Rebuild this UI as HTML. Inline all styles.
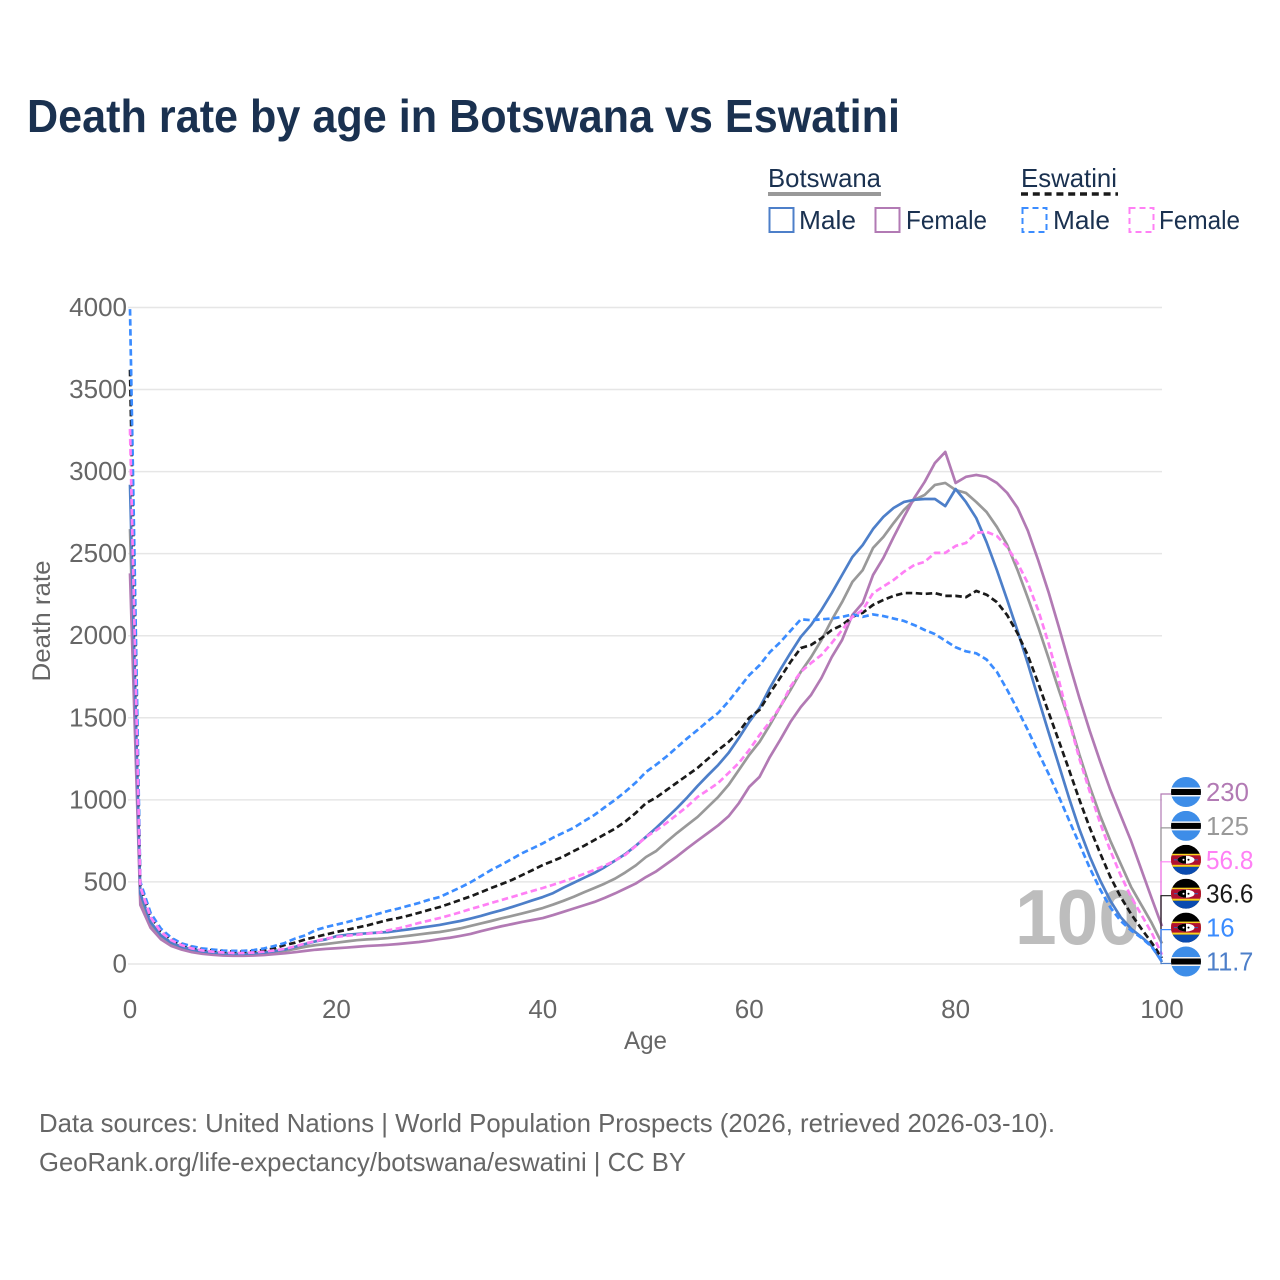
<!DOCTYPE html>
<html lang="en">
<head>
<meta charset="utf-8">
<title>Death rate by age in Botswana vs Eswatini</title>
<style>
html,body{margin:0;padding:0;background:#fff;width:1280px;height:1280px;overflow:hidden}
svg{display:block}
text{font-family:"Liberation Sans",sans-serif}
</style>
</head>
<body>
<svg id="chart" xmlns="http://www.w3.org/2000/svg" width="1280" height="1280" viewBox="0 0 1280 1280">
  <defs>
    <clipPath id="flag-clip"><circle cx="0" cy="0" r="15"></circle></clipPath>
  </defs>
  <rect x="0" y="0" width="1280" height="1280" fill="#fff"></rect>
  <text x="27" y="132" font-size="46" font-weight="700" fill="#1a3150" textLength="873" lengthAdjust="spacingAndGlyphs">Death rate by age in Botswana vs Eswatini</text>

  <g fill="#1a3150" font-size="26">
    <text x="768" y="187" textLength="113" lengthAdjust="spacingAndGlyphs">Botswana</text>
    <rect x="768" y="192" width="113" height="4" fill="#999"></rect>
    <text x="1021" y="187" textLength="96" lengthAdjust="spacingAndGlyphs">Eswatini</text>
    <line x1="1021" y1="194" x2="1118" y2="194" stroke="#1a1a1a" stroke-width="3.5" stroke-dasharray="7 4.8"></line>
    <rect x="769.5" y="208" width="24" height="24" fill="none" stroke="#4d7fc9" stroke-width="2"></rect>
    <text x="799" y="229" textLength="57" lengthAdjust="spacingAndGlyphs">Male</text>
    <rect x="875.5" y="208" width="24" height="24" fill="none" stroke="#b27ab4" stroke-width="2"></rect>
    <text x="906" y="229" textLength="81" lengthAdjust="spacingAndGlyphs">Female</text>
    <rect x="1022.5" y="208" width="24" height="24" fill="none" stroke="#3b8cff" stroke-width="2" stroke-dasharray="6 4"></rect>
    <text x="1053" y="229" textLength="57" lengthAdjust="spacingAndGlyphs">Male</text>
    <rect x="1129.5" y="208" width="24" height="24" fill="none" stroke="#ff80f5" stroke-width="2" stroke-dasharray="6 4"></rect>
    <text x="1159" y="229" textLength="81" lengthAdjust="spacingAndGlyphs">Female</text>
  </g>

  <g id="grid"></g>
  <g id="y-ticks"></g>
  <g id="x-ticks"></g>
  <text transform="translate(50,621) rotate(-90)" text-anchor="middle" font-size="25" fill="#666" textLength="121" lengthAdjust="spacingAndGlyphs">Death rate</text>
  <text x="624" y="1049" font-size="25" fill="#666" textLength="43" lengthAdjust="spacingAndGlyphs">Age</text>
  <text x="1015" y="944" font-size="78" font-weight="700" fill="#bdbdbd" textLength="125" lengthAdjust="spacingAndGlyphs">100</text>
  <g id="series"></g>
  <g id="end-labels"></g>

  <text x="39" y="1132" font-size="26" fill="#666" textLength="1016" lengthAdjust="spacingAndGlyphs">Data sources: United Nations | World Population Prospects (2026, retrieved 2026-03-10).</text>
  <text x="39" y="1171" font-size="26" fill="#666" textLength="647" lengthAdjust="spacingAndGlyphs">GeoRank.org/life-expectancy/botswana/eswatini | CC BY</text>
</svg>
<script>
var yTickValues = [0, 500, 1000, 1500, 2000, 2500, 3000, 3500, 4000];
var xTickValues = [0, 20, 40, 60, 80, 100];

var botswanaTotal = [
  2650,400,240,170,125,100,85,73,66,62,
  60,60,62,66,72,80,92,105,115,122,
  130,138,145,150,153,158,165,172,180,188,
  195,205,217,232,247,262,278,293,308,324,
  341,362,385,410,437,463,490,520,558,600,
  652,689,745,798,847,896,957,1018,1091,1182,
  1274,1353,1456,1566,1670,1780,1870,1974,2096,2205,
  2328,2400,2535,2602,2687,2767,2828,2858,2919,2931,
  2888,2870,2815,2754,2663,2553,2400,2230,2054,1865,
  1670,1487,1275,1080,905,750,610,470,360,250,
  125
];
var botswanaFemale = [
  2380,360,220,150,110,88,72,62,56,52,
  50,50,52,55,60,65,72,80,87,92,
  96,100,105,110,113,117,122,128,134,142,
  152,160,171,183,200,215,230,243,256,268,
  280,298,318,338,358,378,403,430,460,490,
  530,565,610,655,705,752,798,845,900,980,
  1079,1140,1261,1365,1475,1566,1640,1743,1870,1974,
  2127,2200,2370,2474,2602,2724,2840,2937,3053,3120,
  2931,2968,2980,2968,2931,2870,2779,2640,2460,2267,
  2054,1834,1620,1420,1235,1060,905,750,575,400,
  230
];
var botswanaMale = [
  2920,430,255,175,130,105,88,77,70,65,
  62,62,65,70,78,88,105,122,138,150,
  170,178,183,187,191,195,203,211,220,229,
  238,250,262,277,293,311,328,347,367,388,
  408,432,465,495,525,555,590,630,670,720,
  774,830,890,950,1015,1085,1150,1213,1286,1377,
  1475,1560,1682,1792,1895,1993,2066,2157,2260,2370,
  2480,2553,2650,2724,2779,2815,2828,2833,2833,2790,
  2894,2815,2717,2570,2400,2218,2030,1830,1620,1414,
  1213,1010,820,655,510,385,285,215,165,110,
  11.7
];
var eswatiniTotal = [
  3620,480,290,200,150,120,103,90,83,78,
  75,75,78,85,95,116,130,150,165,180,
  195,208,222,235,252,268,280,295,312,330,
  347,368,390,412,437,463,487,512,542,572,
  603,628,655,688,720,755,790,825,868,920,
  980,1015,1060,1105,1150,1195,1250,1304,1353,1414,
  1500,1548,1650,1743,1840,1925,1944,1985,2035,2065,
  2115,2140,2188,2218,2243,2260,2260,2255,2260,2243,
  2243,2235,2273,2250,2205,2125,2015,1880,1712,1535,
  1360,1182,1000,830,676,530,408,305,215,130,
  36.6
];
var eswatiniMale = [
  3990,500,310,215,160,125,108,95,88,82,
  80,80,85,95,110,128,155,175,207,225,
  240,255,272,288,305,323,338,355,372,392,
  408,437,466,498,535,573,605,640,675,705,
  735,770,800,830,870,908,955,1000,1050,1105,
  1170,1215,1265,1320,1375,1426,1480,1530,1600,1680,
  1760,1820,1900,1960,2030,2100,2095,2100,2105,2115,
  2130,2115,2130,2120,2105,2090,2065,2035,2010,1970,
  1930,1905,1893,1855,1780,1670,1550,1425,1290,1160,
  1020,875,730,585,455,345,262,205,160,105,
  16
];
var eswatiniFemale = [
  3260,470,285,195,145,115,95,83,75,70,
  67,67,70,75,83,92,108,125,140,155,
  165,172,178,185,190,205,217,233,250,265,
  280,297,315,335,353,372,390,408,427,445,
  463,483,503,525,549,573,600,630,665,718,
  774,815,860,910,960,1018,1060,1103,1164,1225,
  1304,1395,1475,1566,1690,1780,1834,1883,1956,2035,
  2115,2157,2260,2300,2340,2390,2431,2450,2505,2505,
  2547,2565,2627,2633,2608,2540,2443,2320,2157,1956,
  1730,1480,1250,1050,860,690,540,410,300,190,
  56.8
];
var endLabelText = ["230", "125", "56.8", "36.6", "16", "11.7"];

var SVGNS = "http://www.w3.org/2000/svg";
function xScale(age) { return 130 + age * 10.32; }
function yScale(v) { return 964 - v * 0.16413; }
function mk(tag, attrs, parent) {
  var el = document.createElementNS(SVGNS, tag);
  for (var k in attrs) { el.setAttribute(k, attrs[k]); }
  parent.appendChild(el);
  return el;
}

var gridG = document.getElementById("grid");
var yG = document.getElementById("y-ticks");
var xG = document.getElementById("x-ticks");
var seriesG = document.getElementById("series");
var endG = document.getElementById("end-labels");

yTickValues.forEach(function (v) {
  var line = mk("line", {x1: 128, x2: 1162, y1: yScale(v), y2: yScale(v), stroke: "#e6e6e6", "stroke-width": 1.5}, gridG);
  
  
  var t = mk("text", {x: 127, y: yScale(v) + 8.5, "text-anchor": "end", "font-size": 26, fill: "#666"}, yG);
  t.textContent = String(v);
  
  
});
xTickValues.forEach(function (v) {
  var t = mk("text", {x: xScale(v), y: 1018, "text-anchor": "middle", "font-size": 26, fill: "#666"}, xG);
  t.textContent = String(v);
  
  
});

function drawLine(values, color, dash, name) {
  var pts = values.map(function (v, i) { return xScale(i).toFixed(2) + "," + yScale(v).toFixed(2); }).join(" ");
  var attrs = {points: pts, fill: "none", stroke: color, "stroke-width": 2.7, "stroke-linejoin": "round"};
  if (dash) { attrs["stroke-dasharray"] = "6.5 3.5"; }
  var p = mk("polyline", attrs, seriesG);
  
  
}
drawLine(botswanaTotal, "#999999", false, "line-botswana-total");
drawLine(botswanaFemale, "#b27ab4", false, "line-botswana-female");
drawLine(botswanaMale, "#4d7fc9", false, "line-botswana-male");
drawLine(eswatiniTotal, "#1a1a1a", true, "line-eswatini-total");
drawLine(eswatiniMale, "#3b8cff", true, "line-eswatini-male");
drawLine(eswatiniFemale, "#ff80f5", true, "line-eswatini-female");

function botswanaFlag(g) {
  mk("rect", {x: -15, y: -15, width: 30, height: 30, fill: "#3d8de8"}, g);
  mk("rect", {x: -15, y: -4.5, width: 30, height: 9, fill: "#f4f4f4"}, g);
  mk("rect", {x: -15, y: -3, width: 30, height: 6, fill: "#000"}, g);
}
function eswatiniFlag(g) {
  mk("rect", {x: -15, y: -15, width: 30, height: 30, fill: "#000"}, g);
  mk("rect", {x: -15, y: 7, width: 30, height: 8, fill: "#0a4bb0"}, g);
  mk("rect", {x: -15, y: -6, width: 30, height: 13, fill: "#f7d020"}, g);
  mk("rect", {x: -15, y: -4.5, width: 30, height: 9.5, fill: "#b01030"}, g);
  mk("rect", {x: -12, y: -0.5, width: 24, height: 1, fill: "#3a5fb0"}, g);
  mk("ellipse", {cx: 0, cy: 0, rx: 8.5, ry: 4, fill: "#fff"}, g);
  mk("path", {d: "M-8.5 0A8.5 4 0 0 1 0 -4V4A8.5 4 0 0 1 -8.5 0Z", fill: "#000"}, g);
  mk("circle", {cx: -2.5, cy: 0, r: 1, fill: "#fff"}, g);
  mk("circle", {cx: 2.5, cy: 0, r: 1, fill: "#000"}, g);
}

function drawEnd(values, color, flagFn, index, name) {
  var cy = 792 + index * 33.9;
  var last = values[values.length - 1];
  var conn = mk("polyline", {points: "1161," + yScale(last).toFixed(2) + " 1161," + (cy + 2) + " 1171," + (cy + 2), fill: "none", stroke: color, "stroke-width": 1.2}, endG);
  
  
  var g = mk("g", {transform: "translate(1186," + cy + ")", "clip-path": "url(#flag-clip)"}, endG);
  
  
  flagFn(g);
  var label = endLabelText[index];
  var t = mk("text", {x: 1206, y: cy + 9, "font-size": 26, fill: color, textLength: label.replace(".", "").length * 14.3 + (label.indexOf(".") >= 0 ? 4.5 : 0), lengthAdjust: "spacingAndGlyphs"}, endG);
  t.textContent = label;
  
  
}
drawEnd(botswanaFemale, "#b27ab4", botswanaFlag, 0, "botswana-female");
drawEnd(botswanaTotal, "#999999", botswanaFlag, 1, "botswana-total");
drawEnd(eswatiniFemale, "#ff80f5", eswatiniFlag, 2, "eswatini-female");
drawEnd(eswatiniTotal, "#1a1a1a", eswatiniFlag, 3, "eswatini-total");
drawEnd(eswatiniMale, "#3b8cff", eswatiniFlag, 4, "eswatini-male");
drawEnd(botswanaMale, "#4d7fc9", botswanaFlag, 5, "botswana-male");
</script>
</body>
</html>
